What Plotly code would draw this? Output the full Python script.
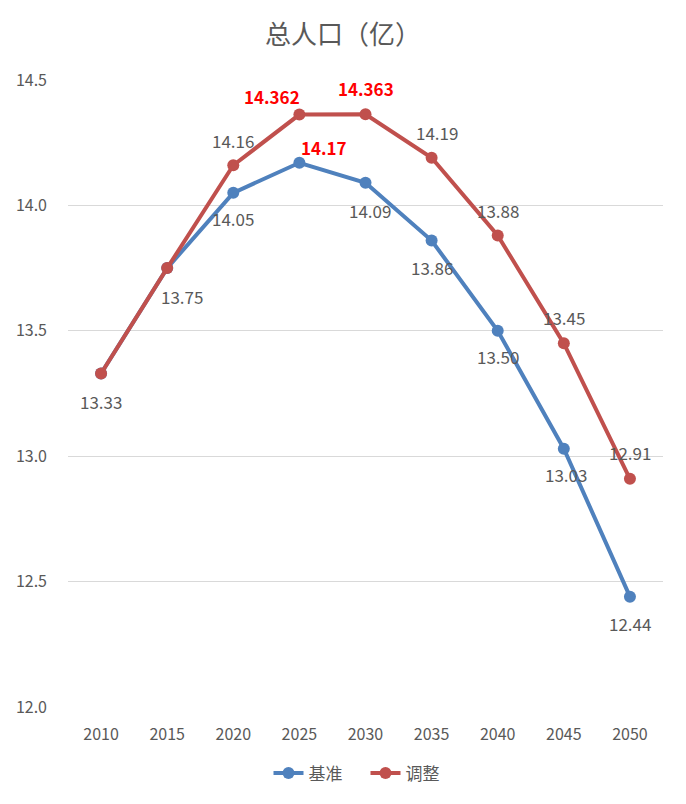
import plotly.graph_objects as go

years = [2010, 2015, 2020, 2025, 2030, 2035, 2040, 2045, 2050]
year_labels = ["2010", "2015", "2020", "2025", "2030", "2035", "2040", "2045", "2050"]
base = [13.33, 13.75, 14.05, 14.17, 14.09, 13.86, 13.50, 13.03, 12.44]
adj = [13.33, 13.75, 14.16, 14.362, 14.363, 14.19, 13.88, 13.45, 12.91]
base_labels = ["", "", "14.05", "14.17", "14.09", "13.86", "13.50", "13.03", "12.44"]
adj_labels = ["13.33", "13.75", "14.16", "14.362", "14.363", "14.19", "13.88", "13.45", "12.91"]
# label offsets in pixels (dx, dy) relative to the point
base_off = [None, None, (0, -26), (25, 15), (4, -28), (0, -27), (0, -26), (2, -26), (0, -27)]
adj_off = [(0, -28), (15, -28), (0, 25), (-27, 18), (0, 26), (5, 25), (0, 25), (0, 26), (0, 26)]
highlight = {("adj", 3), ("adj", 4), ("base", 3)}

BLUE = "#4F81BD"
RED = "#C0504D"
GRAY = "#595959"
FONT = "Noto Sans CJK SC, Open Sans, sans-serif"

fig = go.Figure()
fig.add_trace(go.Scatter(x=years, y=base, mode="lines+markers", name="基准",
                         line=dict(color=BLUE, width=4), marker=dict(size=12, color=BLUE)))
fig.add_trace(go.Scatter(x=years, y=adj, mode="lines+markers", name="调整",
                         line=dict(color=RED, width=4), marker=dict(size=12, color=RED)))

annotations = []
for key, vals, labs, offs in (("base", base, base_labels, base_off), ("adj", adj, adj_labels, adj_off)):
    for i, (x, v, lab, off) in enumerate(zip(years, vals, labs, offs)):
        if not lab or off is None:
            continue
        hl = (key, i) in highlight
        annotations.append(dict(
            x=x, y=v, xref="x", yref="y", text=f"<b>{lab}</b>" if hl else lab, showarrow=False,
            xshift=off[0], yshift=off[1],
            font=dict(family=FONT, size=17, color="#FF0000" if hl else GRAY),
        ))

fig.update_layout(
    width=686, height=804,
    margin=dict(l=68, r=23, t=80, b=97),
    paper_bgcolor="white", plot_bgcolor="white",
    title=dict(text="总人口（亿）", x=0.5, xanchor="center", y=0.956, yanchor="middle",
               font=dict(family=FONT, size=26, color=GRAY)),
    font=dict(family=FONT, color=GRAY),
    xaxis=dict(type="linear", range=[years[0] - 2.5, years[-1] + 2.5],
               tickvals=years, ticktext=year_labels,
               showgrid=False, showline=False, zeroline=False, ticks="",
               ticklabelstandoff=16, tickfont=dict(size=16, color=GRAY)),
    yaxis=dict(range=[12, 14.5], dtick=0.5, tickformat=".1f", showgrid=True,
               gridcolor="#D9D9D9", gridwidth=1, zeroline=False, showline=False,
               ticks="", ticklabelstandoff=20, tickfont=dict(size=16, color=GRAY)),
    legend=dict(orientation="h", x=0.5, xanchor="center", y=-0.106, yanchor="middle",
                entrywidth=52, entrywidthmode="pixels",
                font=dict(size=17, color=GRAY)),
    annotations=annotations,
    showlegend=True,
)
fig.write_html("out.html")
